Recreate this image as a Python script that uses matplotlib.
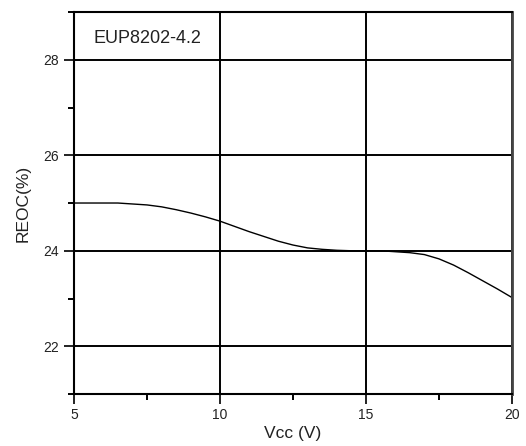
import matplotlib.pyplot as plt
from matplotlib.ticker import MultipleLocator

# data (half-volt steps)
vcc = [5, 5.5, 6, 6.5, 7, 7.5, 8, 8.5, 9, 9.5, 10, 10.5, 11, 11.5, 12, 12.5,
       13, 13.5, 14, 14.5, 15, 15.5, 16, 16.5, 17, 17.5, 18, 18.5, 19, 19.5, 20]
reoc = [25.0, 25.0, 25.0, 25.0, 24.98, 24.96, 24.92, 24.86, 24.79, 24.71,
        24.62, 24.51, 24.4, 24.3, 24.2, 24.12, 24.06, 24.03, 24.01, 24.0,
        24.0, 24.0, 23.98, 23.96, 23.92, 23.83, 23.7, 23.54, 23.37, 23.2, 23.02]

x_ticks = [5, 10, 15, 20]
y_ticks = [22, 24, 26, 28]
label = "EUP8202-4.2"

plt.rcParams['font.family'] = ['Liberation Sans', 'DejaVu Sans']

fig = plt.figure(figsize=(5.26, 4.46), dpi=100)
ax = fig.add_axes([0.1407, 0.1166, 0.8327, 0.8564])

ax.plot(vcc, reoc, color='black', lw=1.0)

ax.set_xlim(5, 20)
ax.set_ylim(21, 29)
ax.set_xticks(x_ticks)
ax.set_yticks(y_ticks)
ax.xaxis.set_minor_locator(MultipleLocator(2.5))
ax.yaxis.set_minor_locator(MultipleLocator(1))

ax.grid(True, which='major', color='black', lw=1.4)
ax.tick_params(which='major', direction='out', length=7, width=1.4,
               labelsize=10, colors='#222222', pad=4)
ax.tick_params(which='minor', direction='out', length=4, width=1.4)
ax.tick_params(axis='x', which='major', pad=3)
ax.tick_params(top=False, right=False, which='both')

for side in ['left', 'bottom', 'top']:
    ax.spines[side].set_linewidth(1.5)
ax.spines['right'].set_linewidth(2.0)
ax.spines['right'].set_color('#444444')

ax.set_xlabel("Vcc (V)", fontsize=12.5, color='#222222', labelpad=3)
ax.set_ylabel("REOC(%)", fontsize=12.5, color='#222222', labelpad=9)

ax.text(0.044, 0.93, label, transform=ax.transAxes, fontsize=13,
        color='#222222', va='center', ha='left')

fig.savefig('out.png', dpi=100)
